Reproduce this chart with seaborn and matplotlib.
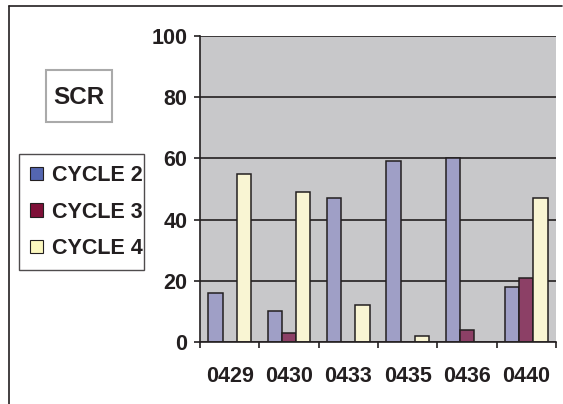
import matplotlib
matplotlib.use("Agg")
import matplotlib.pyplot as plt
import seaborn as sns
import pandas as pd
from matplotlib.lines import Line2D
from matplotlib.patches import Patch, Rectangle

categories = ["0429", "0430", "0433", "0435", "0436", "0440"]
series_names = ["CYCLE 2", "CYCLE 3", "CYCLE 4"]
cycle2 = [16, 10, 47, 59, 60, 18]
cycle3 = [0, 3, 0, 0, 4, 21]
cycle4 = [55, 49, 12, 2, 0, 47]
y_ticks = [0, 20, 40, 60, 80, 100]

bar_colors = ["#9999CC", "#993366", "#FFFACD"]
legend_colors = ["#5466B0", "#7E1038", "#FCF8C0"]
text_color = "#231F20"

rows = []
for name, vals in zip(series_names, [cycle2, cycle3, cycle4]):
    for c, v in zip(categories, vals):
        rows.append({"cat": c, "series": name, "value": v})
df = pd.DataFrame(rows)

sns.set_style("white")
plt.rcParams["font.family"] = ["Liberation Sans", "DejaVu Sans"]
plt.rcParams["font.weight"] = "bold"

W, H = 563, 404
fig = plt.figure(figsize=(W / 100, H / 100), dpi=100)
ax = fig.add_axes([200 / W, (H - 342) / H, 356 / W, 306 / H])
ax.set_facecolor("#C8C8CA")

sns.barplot(data=df, x="cat", y="value", hue="series", order=categories,
            hue_order=series_names, palette=bar_colors, width=0.72,
            edgecolor=text_color, linewidth=1.1, errorbar=None, ax=ax,
            legend=False, zorder=3)
for p in ax.patches:
    if p.get_height() == 0:
        p.set_visible(False)

ax.set_xlim(-0.5, 5.5)
ax.set_ylim(0, 100)
ax.set_yticks(y_ticks)
ax.set_xlabel("")
ax.set_ylabel("")
ax.yaxis.grid(True, color=text_color, linewidth=1.2, zorder=1)
ax.set_axisbelow(True)
for s in ["top", "right"]:
    ax.spines[s].set_visible(False)
for s in ["left", "bottom"]:
    ax.spines[s].set_visible(True)
    ax.spines[s].set_color(text_color)
    ax.spines[s].set_linewidth(1.2)
    ax.spines[s].set_zorder(4)

fs = 15.5
ax.tick_params(axis="y", which="major", length=4, width=1.2, color=text_color,
               labelsize=fs, labelcolor=text_color, pad=5, left=True)
ax.set_xticks([i - 0.5 for i in range(len(categories) + 1)], minor=True)
ax.tick_params(axis="x", which="minor", length=4, width=1.2, color=text_color,
               bottom=True)
ax.tick_params(axis="x", which="major", length=0, labelsize=fs,
               labelcolor=text_color, pad=17)
for t in ax.get_xticklabels() + ax.get_yticklabels():
    t.set_fontweight("bold")

# Legend box
handles = [Patch(facecolor=c, edgecolor=text_color, linewidth=0.8, label=n)
           for c, n in zip(legend_colors, series_names)]
leg = fig.legend(handles=handles, loc="center left",
                 bbox_to_anchor=(19 / W, 1 - 270 / H, 125 / W, 116 / H),
                 mode="expand", frameon=True, fancybox=False,
                 prop={"size": fs, "weight": "bold"}, labelcolor=text_color,
                 handlelength=0.6, handleheight=0.6, handletextpad=0.45,
                 labelspacing=0.72, borderpad=0.5, borderaxespad=0)
leg.get_frame().set_edgecolor(text_color)
leg.get_frame().set_linewidth(1.0)

# Title box
fig.add_artist(Rectangle((46 / W, 1 - 122 / H), 66 / W, 52 / H,
                         transform=fig.transFigure, facecolor="white",
                         edgecolor="#AAAAAA", linewidth=1.5))
fig.text(79 / W, 1 - 97 / H, "SCR", ha="center", va="center", fontsize=17.5,
         fontweight="bold", color=text_color)

# Outer border (left and top)
fig.add_artist(Line2D([9 / W, 9 / W], [0, 1 - 6 / H], transform=fig.transFigure,
                      color=text_color, linewidth=1.2))
fig.add_artist(Line2D([9 / W, 562 / W], [1 - 6 / H, 1 - 6 / H],
                      transform=fig.transFigure, color=text_color, linewidth=1.2))

fig.savefig("out.png", dpi=100)
